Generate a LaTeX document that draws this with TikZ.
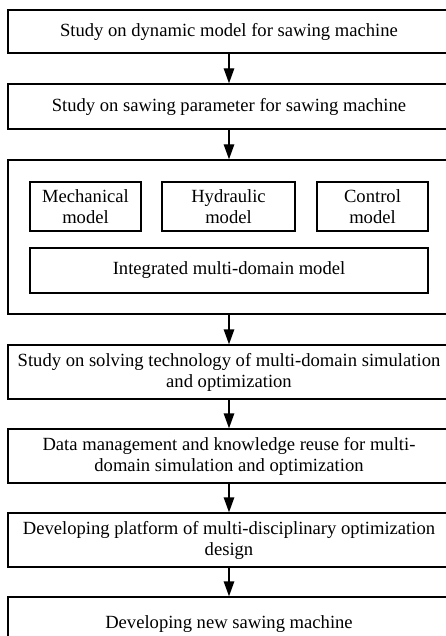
\documentclass[tikz,border=0pt]{standalone}
\usepackage{fontspec}
\setmainfont{Liberation Serif}
\usetikzlibrary{arrows.meta}
\begin{document}
\begin{tikzpicture}[x=1pt,y=1pt,
  box/.style={draw, line width=1.4pt, rectangle, inner sep=0pt, align=center,
    font=\fontsize{18.6}{21}\selectfont},
  arr/.style={line width=1.4pt, -{Triangle[length=15pt,width=10.5pt]}}]
\useasboundingbox (0,0) rectangle (446,-636);
\clip (0,0) rectangle (446,-636);
\node[box, minimum width=442pt, minimum height=43pt] (b1) at (229,-31.5) {Study on dynamic model for sawing machine};
\node[box, minimum width=442pt, minimum height=45pt] (b2) at (229,-106.5) {Study on sawing parameter for sawing machine};
\node[box, minimum width=442pt, minimum height=154pt] (b3) at (229,-237) {};
\node[box, minimum width=111pt, minimum height=49pt] (m1) at (85.5,-206.5) {Mechanical\\model};
\node[box, minimum width=133pt, minimum height=49pt] (m2) at (228.5,-206.5) {Hydraulic\\model};
\node[box, minimum width=111pt, minimum height=49pt] (m3) at (372.5,-206.5) {Control\\model};
\node[box, minimum width=398pt, minimum height=45pt] (m4) at (229,-270.5) {Integrated multi-domain model};
\node[box, minimum width=442pt, minimum height=54pt] (b4) at (229,-372) {Study on solving technology of multi-domain simulation\\and optimization};
\node[box, minimum width=442pt, minimum height=54pt] (b5) at (229,-456) {Data management and knowledge reuse for multi-\\domain simulation and optimization};
\node[box, minimum width=442pt, minimum height=54pt] (b6) at (229,-540) {Developing platform of multi-disciplinary optimization\\design};
\node[box, minimum width=442pt, minimum height=54pt] (b7) at (229,-624) {Developing new sawing machine};
\draw[arr] (b1) -- (b2);
\draw[arr] (b2) -- (b3);
\draw[arr] (b3) -- (b4);
\draw[arr] (b4) -- (b5);
\draw[arr] (b5) -- (b6);
\draw[arr] (b6) -- (b7);
\end{tikzpicture}
\end{document}
